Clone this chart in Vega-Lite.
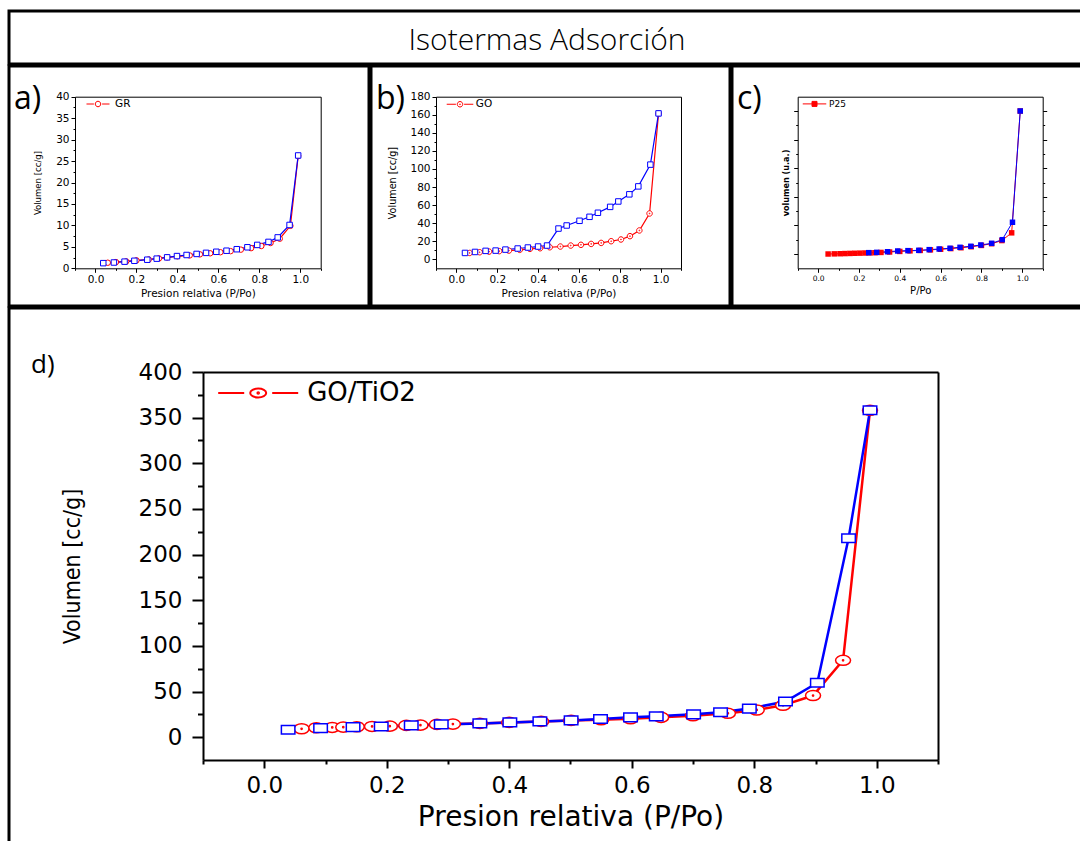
{
  "$schema": "https://vega.github.io/schema/vega-lite/v6.json",
  "padding": {"left": 7, "top": 9, "right": 0, "bottom": 0},
  "spacing": -6,
  "config": {
    "view": {"stroke": "black", "strokeWidth": 3},
    "axis": {"domainColor": "black", "tickColor": "black", "labelColor": "black", "titleColor": "black", "grid": false, "titleFontWeight": "normal", "labelFlush": false, "labelOverlap": false, "labelFont": "DejaVu Sans", "titleFont": "DejaVu Sans", "domainWidth": 1, "tickWidth": 1},
    "legend": {"padding": 0, "labelFont": "DejaVu Sans", "labelColor": "black"},
    "title": {"font": "Open Sans", "fontWeight": "normal", "color": "black", "anchor": "start", "frame": "group"}
  },
  "datasets": {
    "GR": [
      {"p": 0.06, "v": 1.3, "serie": "GR", "rama": "ads"}, {"p": 0.1, "v": 1.45, "serie": "GR", "rama": "ads"}, {"p": 0.15, "v": 1.6, "serie": "GR", "rama": "ads"}, {"p": 0.2, "v": 1.85, "serie": "GR", "rama": "ads"}, {"p": 0.26, "v": 2.05, "serie": "GR", "rama": "ads"}, {"p": 0.31, "v": 2.3, "serie": "GR", "rama": "ads"}, {"p": 0.35, "v": 2.55, "serie": "GR", "rama": "ads"}, {"p": 0.4, "v": 2.8, "serie": "GR", "rama": "ads"}, {"p": 0.46, "v": 3.0, "serie": "GR", "rama": "ads"}, {"p": 0.51, "v": 3.25, "serie": "GR", "rama": "ads"}, {"p": 0.56, "v": 3.5, "serie": "GR", "rama": "ads"}, {"p": 0.61, "v": 3.75, "serie": "GR", "rama": "ads"}, {"p": 0.66, "v": 4.0, "serie": "GR", "rama": "ads"}, {"p": 0.71, "v": 4.35, "serie": "GR", "rama": "ads"}, {"p": 0.76, "v": 4.7, "serie": "GR", "rama": "ads"}, {"p": 0.81, "v": 5.2, "serie": "GR", "rama": "ads"}, {"p": 0.855, "v": 5.9, "serie": "GR", "rama": "ads"}, {"p": 0.9, "v": 6.9, "serie": "GR", "rama": "ads"}, {"p": 0.952, "v": 9.9, "serie": "GR", "rama": "ads"}, {"p": 0.99, "v": 26.2, "serie": "GR", "rama": "ads"},
      {"p": 0.038, "v": 1.2, "serie": "GR (desorción)", "rama": "des"}, {"p": 0.09, "v": 1.35, "serie": "GR (desorción)", "rama": "des"}, {"p": 0.142, "v": 1.55, "serie": "GR (desorción)", "rama": "des"}, {"p": 0.19, "v": 1.75, "serie": "GR (desorción)", "rama": "des"}, {"p": 0.253, "v": 2.0, "serie": "GR (desorción)", "rama": "des"}, {"p": 0.299, "v": 2.25, "serie": "GR (desorción)", "rama": "des"}, {"p": 0.35, "v": 2.55, "serie": "GR (desorción)", "rama": "des"}, {"p": 0.398, "v": 2.85, "serie": "GR (desorción)", "rama": "des"}, {"p": 0.445, "v": 3.1, "serie": "GR (desorción)", "rama": "des"}, {"p": 0.494, "v": 3.35, "serie": "GR (desorción)", "rama": "des"}, {"p": 0.54, "v": 3.6, "serie": "GR (desorción)", "rama": "des"}, {"p": 0.59, "v": 3.85, "serie": "GR (desorción)", "rama": "des"}, {"p": 0.64, "v": 4.1, "serie": "GR (desorción)", "rama": "des"}, {"p": 0.69, "v": 4.45, "serie": "GR (desorción)", "rama": "des"}, {"p": 0.742, "v": 4.9, "serie": "GR (desorción)", "rama": "des"}, {"p": 0.79, "v": 5.45, "serie": "GR (desorción)", "rama": "des"}, {"p": 0.845, "v": 6.15, "serie": "GR (desorción)", "rama": "des"}, {"p": 0.89, "v": 7.2, "serie": "GR (desorción)", "rama": "des"}, {"p": 0.948, "v": 10.1, "serie": "GR (desorción)", "rama": "des"}, {"p": 0.99, "v": 26.3, "serie": "GR (desorción)", "rama": "des"}
    ],
    "GO": [
      {"p": 0.065, "v": 7.0, "serie": "GO", "rama": "ads"}, {"p": 0.114, "v": 7.8, "serie": "GO", "rama": "ads"}, {"p": 0.16, "v": 8.5, "serie": "GO", "rama": "ads"}, {"p": 0.21, "v": 9.0, "serie": "GO", "rama": "ads"}, {"p": 0.257, "v": 9.6, "serie": "GO", "rama": "ads"}, {"p": 0.31, "v": 10.4, "serie": "GO", "rama": "ads"}, {"p": 0.36, "v": 11.5, "serie": "GO", "rama": "ads"}, {"p": 0.41, "v": 12.2, "serie": "GO", "rama": "ads"}, {"p": 0.457, "v": 13.3, "serie": "GO", "rama": "ads"}, {"p": 0.509, "v": 14.1, "serie": "GO", "rama": "ads"}, {"p": 0.56, "v": 15.2, "serie": "GO", "rama": "ads"}, {"p": 0.61, "v": 16.0, "serie": "GO", "rama": "ads"}, {"p": 0.66, "v": 17.0, "serie": "GO", "rama": "ads"}, {"p": 0.709, "v": 18.1, "serie": "GO", "rama": "ads"}, {"p": 0.758, "v": 20.0, "serie": "GO", "rama": "ads"}, {"p": 0.806, "v": 21.9, "serie": "GO", "rama": "ads"}, {"p": 0.85, "v": 25.6, "serie": "GO", "rama": "ads"}, {"p": 0.896, "v": 31.9, "serie": "GO", "rama": "ads"}, {"p": 0.946, "v": 50.7, "serie": "GO", "rama": "ads"}, {"p": 0.99, "v": 161.5, "serie": "GO", "rama": "ads"},
      {"p": 0.042, "v": 7.0, "serie": "GO (desorción)", "rama": "des"}, {"p": 0.091, "v": 8.1, "serie": "GO (desorción)", "rama": "des"}, {"p": 0.143, "v": 9.3, "serie": "GO (desorción)", "rama": "des"}, {"p": 0.192, "v": 9.6, "serie": "GO (desorción)", "rama": "des"}, {"p": 0.24, "v": 10.7, "serie": "GO (desorción)", "rama": "des"}, {"p": 0.3, "v": 11.9, "serie": "GO (desorción)", "rama": "des"}, {"p": 0.35, "v": 13.0, "serie": "GO (desorción)", "rama": "des"}, {"p": 0.4, "v": 14.1, "serie": "GO (desorción)", "rama": "des"}, {"p": 0.444, "v": 15.2, "serie": "GO (desorción)", "rama": "des"}, {"p": 0.5, "v": 34.0, "serie": "GO (desorción)", "rama": "des"}, {"p": 0.54, "v": 37.4, "serie": "GO (desorción)", "rama": "des"}, {"p": 0.603, "v": 42.6, "serie": "GO (desorción)", "rama": "des"}, {"p": 0.652, "v": 47.0, "serie": "GO (desorción)", "rama": "des"}, {"p": 0.693, "v": 51.5, "serie": "GO (desorción)", "rama": "des"}, {"p": 0.753, "v": 58.0, "serie": "GO (desorción)", "rama": "des"}, {"p": 0.793, "v": 64.0, "serie": "GO (desorción)", "rama": "des"}, {"p": 0.847, "v": 71.9, "serie": "GO (desorción)", "rama": "des"}, {"p": 0.891, "v": 80.7, "serie": "GO (desorción)", "rama": "des"}, {"p": 0.95, "v": 104.8, "serie": "GO (desorción)", "rama": "des"}, {"p": 0.99, "v": 161.5, "serie": "GO (desorción)", "rama": "des"}
    ],
    "P25": [
      {"p": 0.049, "v": 0.0, "serie": "P25", "rama": "ads"}, {"p": 0.079, "v": 0.005, "serie": "P25", "rama": "ads"}, {"p": 0.107, "v": 0.01, "serie": "P25", "rama": "ads"}, {"p": 0.131, "v": 0.015, "serie": "P25", "rama": "ads"}, {"p": 0.156, "v": 0.02, "serie": "P25", "rama": "ads"}, {"p": 0.18, "v": 0.025, "serie": "P25", "rama": "ads"}, {"p": 0.205, "v": 0.03, "serie": "P25", "rama": "ads"}, {"p": 0.23, "v": 0.035, "serie": "P25", "rama": "ads"}, {"p": 0.254, "v": 0.04, "serie": "P25", "rama": "ads"}, {"p": 0.279, "v": 0.045, "serie": "P25", "rama": "ads"}, {"p": 0.308, "v": 0.055, "serie": "P25", "rama": "ads"}, {"p": 0.35, "v": 0.07, "serie": "P25", "rama": "ads"}, {"p": 0.4, "v": 0.09, "serie": "P25", "rama": "ads"}, {"p": 0.45, "v": 0.11, "serie": "P25", "rama": "ads"}, {"p": 0.5, "v": 0.125, "serie": "P25", "rama": "ads"}, {"p": 0.55, "v": 0.145, "serie": "P25", "rama": "ads"}, {"p": 0.6, "v": 0.165, "serie": "P25", "rama": "ads"}, {"p": 0.65, "v": 0.19, "serie": "P25", "rama": "ads"}, {"p": 0.7, "v": 0.22, "serie": "P25", "rama": "ads"}, {"p": 0.75, "v": 0.255, "serie": "P25", "rama": "ads"}, {"p": 0.8, "v": 0.3, "serie": "P25", "rama": "ads"}, {"p": 0.85, "v": 0.36, "serie": "P25", "rama": "ads"}, {"p": 0.9, "v": 0.47, "serie": "P25", "rama": "ads"}, {"p": 0.948, "v": 0.74, "serie": "P25", "rama": "ads"}, {"p": 0.99, "v": 5.0, "serie": "P25", "rama": "ads"},
      {"p": 0.248, "v": 0.047, "serie": "P25 (desorción)", "rama": "des"}, {"p": 0.287, "v": 0.058, "serie": "P25 (desorción)", "rama": "des"}, {"p": 0.34, "v": 0.08, "serie": "P25 (desorción)", "rama": "des"}, {"p": 0.39, "v": 0.105, "serie": "P25 (desorción)", "rama": "des"}, {"p": 0.44, "v": 0.117, "serie": "P25 (desorción)", "rama": "des"}, {"p": 0.493, "v": 0.128, "serie": "P25 (desorción)", "rama": "des"}, {"p": 0.544, "v": 0.152, "serie": "P25 (desorción)", "rama": "des"}, {"p": 0.593, "v": 0.175, "serie": "P25 (desorción)", "rama": "des"}, {"p": 0.646, "v": 0.2, "serie": "P25 (desorción)", "rama": "des"}, {"p": 0.695, "v": 0.234, "serie": "P25 (desorción)", "rama": "des"}, {"p": 0.748, "v": 0.27, "serie": "P25 (desorción)", "rama": "des"}, {"p": 0.797, "v": 0.315, "serie": "P25 (desorción)", "rama": "des"}, {"p": 0.85, "v": 0.374, "serie": "P25 (desorción)", "rama": "des"}, {"p": 0.902, "v": 0.5, "serie": "P25 (desorción)", "rama": "des"}, {"p": 0.952, "v": 1.11, "serie": "P25 (desorción)", "rama": "des"}, {"p": 0.99, "v": 5.0, "serie": "P25 (desorción)", "rama": "des"}
    ],
    "GOTiO2": [
      {"p": 0.061, "v": 9.2, "serie": "GO/TiO2", "rama": "ads"}, {"p": 0.085, "v": 10.3, "serie": "GO/TiO2", "rama": "ads"}, {"p": 0.111, "v": 10.7, "serie": "GO/TiO2", "rama": "ads"}, {"p": 0.129, "v": 11.0, "serie": "GO/TiO2", "rama": "ads"}, {"p": 0.151, "v": 11.4, "serie": "GO/TiO2", "rama": "ads"}, {"p": 0.176, "v": 11.8, "serie": "GO/TiO2", "rama": "ads"}, {"p": 0.205, "v": 12.1, "serie": "GO/TiO2", "rama": "ads"}, {"p": 0.232, "v": 12.9, "serie": "GO/TiO2", "rama": "ads"}, {"p": 0.255, "v": 13.2, "serie": "GO/TiO2", "rama": "ads"}, {"p": 0.282, "v": 14.0, "serie": "GO/TiO2", "rama": "ads"}, {"p": 0.308, "v": 14.3, "serie": "GO/TiO2", "rama": "ads"}, {"p": 0.352, "v": 15.1, "serie": "GO/TiO2", "rama": "ads"}, {"p": 0.4, "v": 16.2, "serie": "GO/TiO2", "rama": "ads"}, {"p": 0.452, "v": 17.3, "serie": "GO/TiO2", "rama": "ads"}, {"p": 0.501, "v": 18.4, "serie": "GO/TiO2", "rama": "ads"}, {"p": 0.55, "v": 19.1, "serie": "GO/TiO2", "rama": "ads"}, {"p": 0.598, "v": 20.2, "serie": "GO/TiO2", "rama": "ads"}, {"p": 0.648, "v": 21.7, "serie": "GO/TiO2", "rama": "ads"}, {"p": 0.7, "v": 23.5, "serie": "GO/TiO2", "rama": "ads"}, {"p": 0.757, "v": 26.1, "serie": "GO/TiO2", "rama": "ads"}, {"p": 0.804, "v": 29.8, "serie": "GO/TiO2", "rama": "ads"}, {"p": 0.847, "v": 34.9, "serie": "GO/TiO2", "rama": "ads"}, {"p": 0.896, "v": 45.6, "serie": "GO/TiO2", "rama": "ads"}, {"p": 0.945, "v": 84.2, "serie": "GO/TiO2", "rama": "ads"}, {"p": 0.989, "v": 358, "serie": "GO/TiO2", "rama": "ads"},
      {"p": 0.039, "v": 8.1, "serie": "GO/TiO2 (desorción)", "rama": "des"}, {"p": 0.092, "v": 9.9, "serie": "GO/TiO2 (desorción)", "rama": "des"}, {"p": 0.145, "v": 11.0, "serie": "GO/TiO2 (desorción)", "rama": "des"}, {"p": 0.191, "v": 11.8, "serie": "GO/TiO2 (desorción)", "rama": "des"}, {"p": 0.24, "v": 12.9, "serie": "GO/TiO2 (desorción)", "rama": "des"}, {"p": 0.289, "v": 14.0, "serie": "GO/TiO2 (desorción)", "rama": "des"}, {"p": 0.352, "v": 15.1, "serie": "GO/TiO2 (desorción)", "rama": "des"}, {"p": 0.401, "v": 16.2, "serie": "GO/TiO2 (desorción)", "rama": "des"}, {"p": 0.45, "v": 17.3, "serie": "GO/TiO2 (desorción)", "rama": "des"}, {"p": 0.501, "v": 18.4, "serie": "GO/TiO2 (desorción)", "rama": "des"}, {"p": 0.549, "v": 19.9, "serie": "GO/TiO2 (desorción)", "rama": "des"}, {"p": 0.598, "v": 21.7, "serie": "GO/TiO2 (desorción)", "rama": "des"}, {"p": 0.64, "v": 22.8, "serie": "GO/TiO2 (desorción)", "rama": "des"}, {"p": 0.701, "v": 25.0, "serie": "GO/TiO2 (desorción)", "rama": "des"}, {"p": 0.745, "v": 27.2, "serie": "GO/TiO2 (desorción)", "rama": "des"}, {"p": 0.792, "v": 31.3, "serie": "GO/TiO2 (desorción)", "rama": "des"}, {"p": 0.851, "v": 39.0, "serie": "GO/TiO2 (desorción)", "rama": "des"}, {"p": 0.903, "v": 59.6, "serie": "GO/TiO2 (desorción)", "rama": "des"}, {"p": 0.954, "v": 218, "serie": "GO/TiO2 (desorción)", "rama": "des"}, {"p": 0.989, "v": 358, "serie": "GO/TiO2 (desorción)", "rama": "des"}
    ]
  },
  "vconcat": [
    {
      "width": 1075, "height": 53,
      "data": {"values": [{"t": "Isotermas Adsorción"}]},
      "mark": {"type": "text", "font": "Open Sans", "fontWeight": 300, "fontSize": 30, "align": "center", "baseline": "middle", "dy": 3, "color": "black"},
      "encoding": {
        "x": {"field": "t", "type": "nominal", "axis": null, "scale": {"range": [538, 538]}},
        "text": {"field": "t", "type": "nominal"}
      }
    },
    {
      "hconcat": [
        {
          "width": 360, "height": 240,
          "title": {"text": "a)", "offset": -50, "baseline": "top", "dx": 5, "fontSize": 32},
          "data": {"name": "GR"},
          "layer": [
            {
              "mark": {"type": "line", "strokeWidth": 1.2},
              "encoding": {
                "x": {"field": "p", "type": "quantitative", "scale": {"domain": [-0.1, 1.1], "range": [66, 311.7], "nice": false, "zero": false},
                  "axis": {"orient": "bottom", "offset": -37.7, "values": [-0.1, 0, 0.1, 0.2, 0.3, 0.4, 0.5, 0.6, 0.7, 0.8, 0.9, 1, 1.1], "labelExpr": "abs(round(datum.value*10)) % 2 == 0 ? format(datum.value, '.1f') : ''", "tickSize": {"condition": {"test": "abs(round(datum.value*10)) % 2 == 0", "value": 4}, "value": 2}, "labelPadding": 2, "labelFontSize": 10.5, "title": "Presion relativa (P/Po)", "titleFontSize": 10.5, "titlePadding": 4}},
                "y": {"field": "v", "type": "quantitative", "scale": {"domain": [0, 40], "range": [202.3, 30.7], "nice": false, "zero": false},
                  "axis": {"orient": "left", "offset": -66, "values": [0, 2.5, 5, 7.5, 10, 12.5, 15, 17.5, 20, 22.5, 25, 27.5, 30, 32.5, 35, 37.5, 40], "labelExpr": "datum.value % 5 == 0 ? format(datum.value, 'd') : ''", "tickSize": {"condition": {"test": "datum.value % 5 == 0", "value": 4}, "value": 2}, "labelPadding": 2, "labelFontSize": 10.5, "title": "Volumen [cc/g]", "titleFont": "DejaVu Sans Condensed", "titleFontSize": 9.5, "titlePadding": 13}},
                "color": {"field": "serie", "type": "nominal", "scale": {"domain": ["GR", "GR (desorción)"], "range": ["#ff0000", "#0000ff"]},
                  "legend": {"values": ["GR"], "title": null, "orient": "none", "legendX": 83.75, "legendY": 32.75, "symbolType": "M-4.2,0H-1.5M1.5,0H4.2M-1,0A1,1 0 1,1 1,0A1,1 0 1,1 -1,0Z", "symbolSize": 30, "symbolStrokeWidth": 1, "symbolFillColor": "white", "labelOffset": 11.75, "labelFontSize": 10.5}}
              }
            },
            {
              "mark": {"type": "point", "filled": false, "fill": "white", "strokeWidth": 1, "size": 30, "opacity": 1},
              "encoding": {
                "x": {"field": "p", "type": "quantitative", "axis": {"orient": "top", "offset": -30.7, "labels": false, "ticks": false, "title": null}},
                "y": {"field": "v", "type": "quantitative", "axis": {"orient": "right", "offset": -48.3, "labels": false, "ticks": false, "title": null}},
                "color": {"field": "serie", "type": "nominal"},
                "shape": {"field": "rama", "type": "nominal", "scale": {"domain": ["ads", "des"], "range": ["circle", "square"]}, "legend": null}
              }
            }
          ],
          "resolve": {"axis": {"x": "independent", "y": "independent"}}
        },
        {
          "width": 359, "height": 240,
          "title": {"text": "b)", "offset": -50, "baseline": "top", "dx": 5, "fontSize": 32},
          "data": {"name": "GO"},
          "layer": [
            {
              "mark": {"type": "line", "strokeWidth": 1.2},
              "encoding": {
                "x": {"field": "p", "type": "quantitative", "scale": {"domain": [-0.1, 1.1], "range": [65, 310], "nice": false, "zero": false},
                  "axis": {"orient": "bottom", "offset": -37.7, "values": [-0.1, 0, 0.1, 0.2, 0.3, 0.4, 0.5, 0.6, 0.7, 0.8, 0.9, 1, 1.1], "labelExpr": "abs(round(datum.value*10)) % 2 == 0 ? format(datum.value, '.1f') : ''", "tickSize": {"condition": {"test": "abs(round(datum.value*10)) % 2 == 0", "value": 4}, "value": 2}, "labelPadding": 2, "labelFontSize": 10.5, "title": "Presion relativa (P/Po)", "titleFontSize": 10.5, "titlePadding": 4}},
                "y": {"field": "v", "type": "quantitative", "scale": {"domain": [-10, 180], "range": [202.3, 30.7], "nice": false, "zero": false},
                  "axis": {"orient": "left", "offset": -65, "values": [0, 10, 20, 30, 40, 50, 60, 70, 80, 90, 100, 110, 120, 130, 140, 150, 160, 170, 180], "labelExpr": "datum.value % 20 == 0 ? format(datum.value, 'd') : ''", "tickSize": {"condition": {"test": "datum.value % 20 == 0", "value": 4}, "value": 2}, "labelPadding": 2, "labelFontSize": 10.5, "title": "Volumen [cc/g]", "titleFont": "DejaVu Sans Condensed", "titleFontSize": 10.7, "titlePadding": 12}},
                "color": {"field": "serie", "type": "nominal", "scale": {"domain": ["GO", "GO (desorción)"], "range": ["#ff0000", "#0000ff"]},
                  "legend": {"values": ["GO"], "title": null, "orient": "none", "legendX": 83.75, "legendY": 33, "symbolType": "M-4.85,0H-1.5M1.5,0H4.85M-1,0A1,1 0 1,1 1,0A1,1 0 1,1 -1,0ZM-0.15,0A0.15,0.15 0 1,1 0.15,0A0.15,0.15 0 1,1 -0.15,0Z", "symbolSize": 30, "symbolStrokeWidth": 1, "symbolFillColor": "white", "labelOffset": 10.5, "labelFontSize": 10.5}}
              }
            },
            {
              "mark": {"type": "point", "filled": false, "fill": "white", "strokeWidth": 1, "size": 30, "opacity": 1},
              "encoding": {
                "x": {"field": "p", "type": "quantitative", "axis": {"orient": "top", "offset": -30.7, "labels": false, "ticks": false, "title": null}},
                "y": {"field": "v", "type": "quantitative", "axis": {"orient": "right", "offset": -49, "labels": false, "ticks": false, "title": null}},
                "color": {"field": "serie", "type": "nominal"},
                "shape": {"field": "rama", "type": "nominal", "scale": {"domain": ["ads", "des"], "range": ["M-1,0A1,1 0 1,1 1,0A1,1 0 1,1 -1,0ZM-0.15,0A0.15,0.15 0 1,1 0.15,0A0.15,0.15 0 1,1 -0.15,0Z", "square"]}, "legend": null}
              }
            }
          ],
          "resolve": {"axis": {"x": "independent", "y": "independent"}}
        },
        {
          "width": 356, "height": 240,
          "title": {"text": "c)", "offset": -50, "baseline": "top", "dx": 5, "fontSize": 32},
          "data": {"name": "P25"},
          "layer": [
            {
              "mark": {"type": "line", "strokeWidth": 1},
              "encoding": {
                "x": {"field": "p", "type": "quantitative", "scale": {"domain": [-0.1, 1.1], "range": [65.7, 310.7], "nice": false, "zero": false},
                  "axis": {"orient": "bottom", "offset": -37.7, "values": [-0.1, 0, 0.1, 0.2, 0.3, 0.4, 0.5, 0.6, 0.7, 0.8, 0.9, 1, 1.1], "labelExpr": "abs(round(datum.value*10)) % 2 == 0 ? format(datum.value, '.1f') : ''", "tickSize": {"condition": {"test": "abs(round(datum.value*10)) % 2 == 0", "value": 4}, "value": 2}, "labelPadding": 2, "labelFontSize": 7.5, "title": "P/Po", "titleFontSize": 10, "titlePadding": 4}},
                "y": {"field": "v", "type": "quantitative", "scale": {"domain": [-0.5, 5.5], "range": [202.3, 30.7], "nice": false, "zero": false},
                  "axis": {"orient": "left", "offset": -65.7, "values": [0, 0.5, 1, 1.5, 2, 2.5, 3, 3.5, 4, 4.5, 5], "labels": false, "tickSize": {"condition": {"test": "datum.value % 1 == 0", "value": 4}, "value": 2}, "title": "volumen (u.a.)", "titleFont": "DejaVu Sans Condensed", "titleFontSize": 9, "titleFontWeight": "bold", "titlePadding": 3}},
                "color": {"field": "serie", "type": "nominal", "scale": {"domain": ["P25", "P25 (desorción)"], "range": ["#ff0000", "#0000ff"]},
                  "legend": {"values": ["P25"], "title": null, "orient": "none", "legendX": 78, "legendY": 33.4, "symbolType": "M-4.7,0H-1M1,0H4.7M-1,-1H1V1H-1Z", "symbolSize": 25, "symbolStrokeWidth": 1, "symbolFillColor": "#ff0000", "labelOffset": 10, "labelFontSize": 9}}
              }
            },
            {
              "mark": {"type": "point", "filled": true, "strokeWidth": 0, "size": 30, "opacity": 1},
              "encoding": {
                "x": {"field": "p", "type": "quantitative", "axis": {"orient": "top", "offset": -30.7, "labels": false, "ticks": false, "title": null}},
                "y": {"field": "v", "type": "quantitative", "axis": {"orient": "right", "offset": -45.3, "labels": false, "values": [0, 0.5, 1, 1.5, 2, 2.5, 3, 3.5, 4, 4.5, 5], "tickSize": {"condition": {"test": "datum.value % 1 == 0", "value": 4}, "value": 2}, "title": null}},
                "color": {"field": "serie", "type": "nominal"},
                "shape": {"field": "rama", "type": "nominal", "scale": {"domain": ["ads", "des"], "range": ["square", "square"]}, "legend": null}
              }
            }
          ],
          "resolve": {"axis": {"x": "independent", "y": "independent"}}
        }
      ],
      "spacing": -6,
      "resolve": {"scale": {"color": "independent", "shape": "independent"}, "legend": {"color": "independent"}}
    },
    {
      "width": 1075, "height": 545,
      "title": {"text": "d)", "offset": -70, "baseline": "top", "dx": 22, "fontSize": 26},
      "data": {"name": "GOTiO2"},
      "layer": [
        {
          "mark": {"type": "line", "strokeWidth": 2.5},
          "encoding": {
            "x": {"field": "p", "type": "quantitative", "scale": {"domain": [-0.1, 1.1], "range": [194, 929], "nice": false, "zero": false},
              "axis": {"orient": "bottom", "offset": -93, "values": [-0.1, 0, 0.1, 0.2, 0.3, 0.4, 0.5, 0.6, 0.7, 0.8, 0.9, 1, 1.1], "labelExpr": "abs(round(datum.value*10)) % 2 == 0 ? format(datum.value, '.1f') : ''", "tickSize": {"condition": {"test": "abs(round(datum.value*10)) % 2 == 0", "value": 8}, "value": 4}, "tickWidth": 2, "domainWidth": 2, "labelPadding": 6, "labelFontSize": 23, "title": "Presion relativa (P/Po)", "titleFontSize": 28, "titlePadding": 6}},
            "y": {"field": "v", "type": "quantitative", "scale": {"domain": [-25, 400], "range": [452, 64], "nice": false, "zero": false},
              "axis": {"orient": "left", "offset": -194, "values": [0, 25, 50, 75, 100, 125, 150, 175, 200, 225, 250, 275, 300, 325, 350, 375, 400], "labelExpr": "datum.value % 50 == 0 ? format(datum.value, 'd') : ''", "tickSize": {"condition": {"test": "datum.value % 50 == 0", "value": 11}, "value": 5.5}, "tickWidth": 2, "domainWidth": 2, "labelPadding": 10, "labelFontSize": 23, "title": "Volumen [cc/g]", "titleFont": "DejaVu Sans Condensed", "titleFontSize": 23, "titlePadding": 54}},
            "color": {"field": "serie", "type": "nominal", "scale": {"domain": ["GO/TiO2", "GO/TiO2 (desorción)"], "range": ["#ff0000", "#0000ff"]},
              "legend": {"values": ["GO/TiO2"], "title": null, "orient": "none", "legendX": 236.2, "legendY": 72, "symbolType": "M-5,0H-1.75M1.75,0H5M-1,0A1,0.56 0 1,1 1,0A1,0.56 0 1,1 -1,0ZM-0.1,0A0.1,0.1 0 1,1 0.1,0A0.1,0.1 0 1,1 -0.1,0Z", "symbolSize": 256, "symbolStrokeWidth": 2, "symbolFillColor": "white", "labelOffset": 36, "labelFontSize": 26}}
          }
        },
        {
          "mark": {"type": "point", "filled": false, "fill": "white", "strokeWidth": 1.5, "size": 225, "opacity": 1},
          "encoding": {
            "x": {"field": "p", "type": "quantitative", "axis": {"orient": "top", "offset": -64, "labels": false, "ticks": false, "title": null, "domainWidth": 2}},
            "y": {"field": "v", "type": "quantitative", "axis": {"orient": "right", "offset": -146, "labels": false, "ticks": false, "title": null, "domainWidth": 2}},
            "color": {"field": "serie", "type": "nominal"},
            "shape": {"field": "rama", "type": "nominal", "scale": {"domain": ["ads", "des"], "range": ["M-1,0A1,0.67 0 1,1 1,0A1,0.67 0 1,1 -1,0ZM-0.08,0A0.08,0.08 0 1,1 0.08,0A0.08,0.08 0 1,1 -0.08,0Z", "M-0.9,-0.57H0.9V0.57H-0.9Z"]}, "legend": null}
          }
        }
      ],
      "resolve": {"axis": {"x": "independent", "y": "independent"}}
    }
  ],
  "resolve": {"scale": {"color": "independent", "shape": "independent"}, "legend": {"color": "independent"}}
}
